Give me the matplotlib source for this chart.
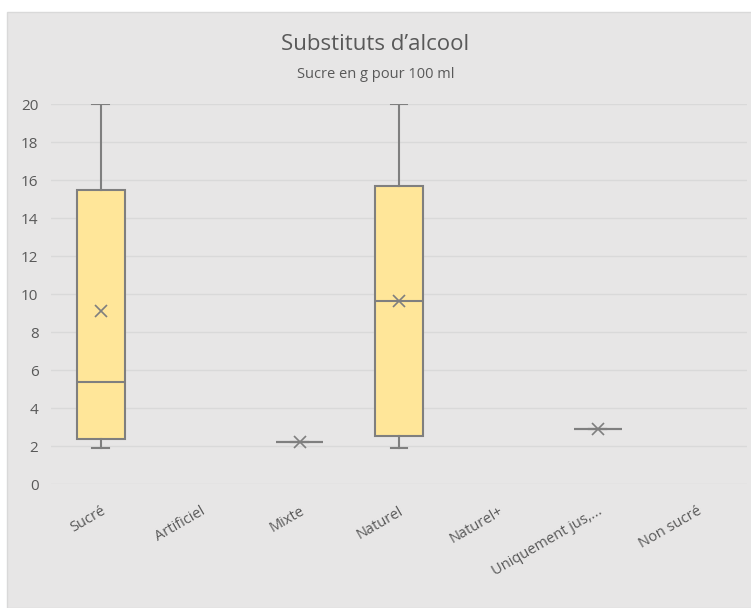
import matplotlib
matplotlib.use("Agg")
import matplotlib.pyplot as plt
from matplotlib.patches import Rectangle

# Sugar content (g / 100 ml) per sweetening category
categories = ["Sucré", "Artificiel", "Mixte", "Naturel", "Naturel+",
              "Uniquement jus,...", "Non sucré"]
whislo = [1.9, None, 2.2, 1.9, None, 2.9, None]
q1 = [2.35, None, 2.2, 2.55, None, 2.9, None]
med = [5.35, None, 2.2, 9.65, None, 2.9, None]
q3 = [15.5, None, 2.2, 15.7, None, 2.9, None]
whishi = [20.0, None, 2.2, 20.0, None, 2.9, None]
mean = [9.1, None, 2.2, 9.65, None, 2.9, None]
yticks = list(range(0, 21, 2))

plt.rcParams["font.family"] = ["Open Sans", "DejaVu Sans"]
text_c = "#595959"
bg = "#e7e6e6"

fig = plt.figure(figsize=(7.51, 6.08), dpi=100)
fig.patch.set_facecolor("white")
fig.patches.append(Rectangle((7 / 751, 0), 1, 1 - 12 / 608, transform=fig.transFigure,
                             facecolor=bg, edgecolor="#d9d9d9", lw=1, zorder=-1))

ax = fig.add_axes([51 / 751, 1 - 484 / 608, 696 / 751, 380 / 608])
ax.set_facecolor(bg)

stats, pos = [], []
for i in range(len(categories)):
    if med[i] is None:
        continue
    stats.append(dict(whislo=whislo[i], q1=q1[i], med=med[i], q3=q3[i],
                      whishi=whishi[i], mean=mean[i], fliers=[]))
    pos.append(i)

ax.bxp(stats, positions=pos, widths=0.48, patch_artist=True, showmeans=True,
       boxprops=dict(facecolor="#ffe699", edgecolor="#7f7f7f", lw=1.5),
       medianprops=dict(color="#7f7f7f", lw=1.5),
       whiskerprops=dict(color="#7f7f7f", lw=1.5),
       capprops=dict(color="#7f7f7f", lw=1.5),
       capwidths=0.17,
       meanprops=dict(marker="x", markeredgecolor="#7f7f7f", markersize=9, mew=1.2))

ax.set_xlim(-0.5, len(categories) - 0.5)
ax.set_ylim(0, 20)
ax.set_yticks(yticks)
ax.set_xticks(range(len(categories)))
ax.set_xticklabels(categories, rotation=30, ha="right", rotation_mode="anchor",
                   fontsize=10.5, color=text_c)
ax.tick_params(axis="y", labelsize=11, colors=text_c, length=0, pad=9)
ax.tick_params(axis="x", length=0, pad=14)
ax.grid(axis="y", color="#d9d9d9", lw=1)
ax.set_axisbelow(True)
for s in ax.spines.values():
    s.set_visible(False)

fig.text(0.5, 1 - 44 / 608, "Substituts d’alcool", ha="center", va="center",
         fontsize=16, color=text_c)
fig.text(0.5, 1 - 75 / 608, "Sucre en g pour 100 ml", ha="center", va="center",
         fontsize=10.5, color=text_c)

fig.savefig("out.png", dpi=100, facecolor=fig.get_facecolor())
